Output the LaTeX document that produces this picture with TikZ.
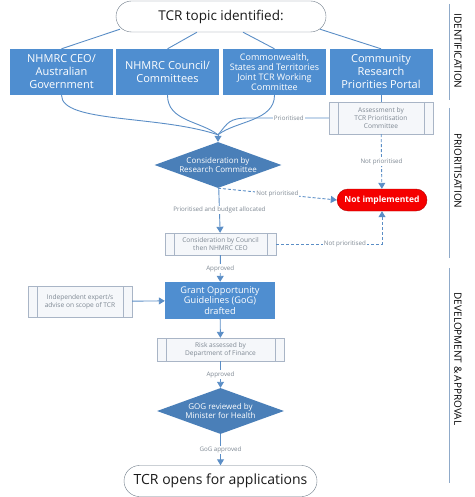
\documentclass[tikz,border=0pt]{standalone}
\usepackage{fontspec}
\setsansfont{Open Sans}
\usepackage{tikz}
\usetikzlibrary{arrows.meta, positioning, shapes.geometric, shapes.misc}
\definecolor{Ink}{HTML}{1A1A1A}
\definecolor{BoxBlue}{HTML}{4F8ED0}
\definecolor{DiaBlue}{HTML}{4A7FB8}
\definecolor{Wire}{HTML}{5B8EC6}
\definecolor{ProcLine}{HTML}{A9B5C6}
\definecolor{ProcFill}{HTML}{F5F7FA}
\definecolor{Muted}{HTML}{7E8893}
\definecolor{Stop}{HTML}{F50000}
\definecolor{StopEdge}{HTML}{B30000}
\definecolor{Rim}{HTML}{6E7B88}
\definecolor{Rail}{HTML}{8FAAC9}

\begin{document}
\begin{tikzpicture}[
  x=1pt, y=-1pt,
  font=\sffamily,
  termbox/.style={rounded rectangle, draw=Rim, thin, fill=white, text=Ink, inner sep=0pt},
  nodebox/.style={rectangle, fill=BoxBlue, text=white, align=center, minimum width=103pt, minimum height=46pt, inner sep=1pt, font=\sffamily\fontsize{11}{13}\selectfont},
  choice/.style={diamond, aspect=2.7, fill=DiaBlue, text=white, align=center, inner sep=0pt, minimum width=127pt, minimum height=46pt, font=\sffamily\fontsize{8}{9}\selectfont},
  subproc/.style={rectangle, draw=ProcLine, fill=ProcFill, text=Muted, align=center, inner sep=1pt, font=\sffamily\fontsize{6.6}{8}\selectfont,
    path picture={\draw[ProcLine] ([xshift=9pt]path picture bounding box.north west) -- ([xshift=9pt]path picture bounding box.south west)
      ([xshift=-9pt]path picture bounding box.north east) -- ([xshift=-9pt]path picture bounding box.south east);}},
  stopbox/.style={rounded rectangle, fill=Stop, draw=StopEdge, text=white, minimum width=90pt, minimum height=22pt, inner sep=0pt, font=\sffamily\bfseries\fontsize{8.5}{10}\selectfont},
  lbl/.style={fill=white, text=Muted, inner sep=1pt, font=\sffamily\fontsize{6.2}{7}\selectfont},
  link/.style={draw=Wire, line width=0.9pt},
  arrow/.style={link, -{Triangle[length=6pt,width=7pt]}},
  dasharrow/.style={arrow, dash pattern=on 3pt off 2pt},
  rail/.style={draw=Rail, line width=0.8pt},
  sidelabel/.style={rotate=-90, text=black, font=\sffamily\fontsize{10}{12}\selectfont}
]
\useasboundingbox (0,0) rectangle (474,497);

% identification
\node[termbox, minimum width=210pt, minimum height=31pt, font=\sffamily\fontsize{13.5}{15}\selectfont] (topic) at (221,16.5) {TCR topic identified:};
\node[nodebox] (ceo) at (61.5,72) {NHMRC CEO/\\Australian\\Government};
\node[nodebox] (council) at (167.5,72) {NHMRC Council/\\Committees};
\node[nodebox, font=\sffamily\fontsize{9}{10}\selectfont] (joint) at (274.5,72) {Commonwealth,\\States and Territories\\Joint TCR Working\\Committee};
\node[nodebox] (portal) at (381,72) {Community\\Research\\Priorities Portal};

% prioritisation
\node[subproc, minimum width=104pt, minimum height=32pt] (assess) at (381,118) {Assessment by\\TCR Prioritisation\\Committee};
\node[choice] (research) at (218,165) {Consideration by\\Research Committee};
\node[stopbox] (stop) at (382,200) {Not implemented};
\node[subproc, minimum width=111pt, minimum height=22pt] (ceocheck) at (220.5,244) {Consideration by Council\\then NHMRC CEO};

% development & approval
\node[nodebox, minimum width=110pt, minimum height=37pt, font=\sffamily\fontsize{9.2}{10.5}\selectfont] (gog) at (220,300.5) {Grant Opportunity\\Guidelines (GoG)\\drafted};
\node[subproc, minimum width=104pt, minimum height=31pt] (expert) at (80,301.5) {Independent expert/s\\advise on scope of TCR};
\node[subproc, minimum width=127pt, minimum height=23pt] (risk) at (220.5,349.5) {Risk assessed by\\Department of Finance};
\node[choice] (minister) at (220.5,411) {GOG reviewed by\\Minister for Health};
\node[termbox, minimum width=193pt, minimum height=31pt, font=\sffamily\fontsize{14}{16}\selectfont] (opens) at (220.5,481) {TCR opens for applications};

% top fan-out
\draw[link] ([xshift=-101pt,yshift=3pt]topic.south) -- (ceo.north);
\draw[link] ([xshift=-24pt]topic.south) -- (council.north);
\draw[link] ([xshift=22pt]topic.south) -- (joint.north);
\draw[link] ([xshift=99pt,yshift=3pt]topic.south) -- (portal.north);
\draw[link] (portal) -- (assess);

% merge into the research committee
\coordinate (merge) at ([yshift=7pt]research.north);
\draw[link] (ceo.south) .. controls +(0,28) and +(-60,-20) .. (merge);
\draw[link] (council.south) .. controls +(0,26) and +(-18,-14) .. (merge);
\draw[link] (joint.south) .. controls +(0,26) and +(18,-14) .. (merge);
\draw[link] (assess.west) -- node[lbl]{Prioritised} ++(-80,0) .. controls +(-20,0) and +(10,-12) .. (merge);
\draw[arrow] (merge) -- (research.north);

\draw[arrow] (research) -- node[lbl]{Prioritised and budget allocated} (ceocheck);
\draw[dasharrow] (research.south) -- node[lbl]{Not prioritised} (stop.west);
\draw[dasharrow] (assess) -- node[lbl]{Not prioritised} (stop);
\draw[dasharrow] (ceocheck.east) -- node[lbl, pos=0.65]{Not prioritised} (ceocheck.east -| stop.south) -- (stop.south);

\draw[arrow] (ceocheck) -- node[lbl]{Approved} (gog);
\draw[arrow] (expert) -- (gog);
\draw[arrow] (gog) -- (risk);
\draw[arrow] (risk) -- node[lbl]{Approved} (minister);
\draw[arrow] (minister) -- node[lbl]{GoG approved} (opens);

% phase rails
\draw[rail] (449,4) -- (449,100);
\draw[rail] (449,108) -- (449,258);
\draw[rail] (449,268) -- (449,483);
\node[sidelabel] (ident) at (458,51) {IDENTIFICATION};
\node[sidelabel] (prior) at (458,171) {PRIORITISATION};
\node[sidelabel] (devel) at (458,359) {DEVELOPMENT \&\ APPROVAL};
\end{tikzpicture}
\end{document}
